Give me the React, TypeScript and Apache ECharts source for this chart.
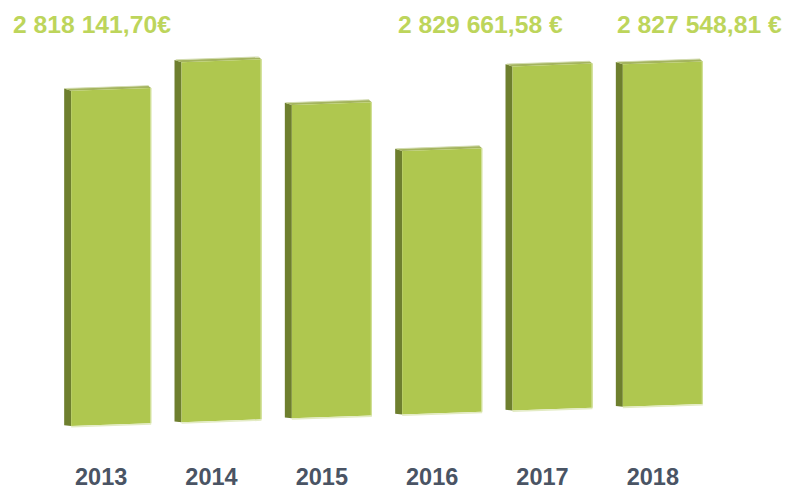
import React, { useEffect, useRef } from "react";
import * as echarts from "echarts";

const categories = ["2013", "2014", "2015", "2016", "2017", "2018"];
const values = [2818141.7, 2850000, 2790000, 2726000, 2829661.58, 2827548.81];
const valueLabels = ["2 818 141,70€", "", "", "", "2 829 661,58 €", "2 827 548,81 €"];
const labelLefts = [13, 0, 0, 0, 398, 617];

const Y_MIN = 2388000;
const Y_MAX = 2909000;
const SHEAR = 0.035;

export default function App() {
  const ref = useRef<HTMLDivElement>(null);
  useEffect(() => {
    if (!ref.current) return;
    const chart = echarts.init(ref.current, undefined, { renderer: "svg" });
    const data = values.map((v, i) => [i, v]);
    const graphics: any[] = [];
    valueLabels.forEach((t, i) => {
      if (!t) return;
      graphics.push({
        type: "text",
        left: labelLefts[i],
        top: 12,
        style: {
          text: t,
          fill: "#bdd55b",
          font: "bold 24.7px 'Liberation Sans', Arial, sans-serif",
        },
      });
    });
    chart.setOption({
      animation: false,
      grid: { left: 52, width: 662, top: 20, bottom: 62, containLabel: false },
      xAxis: {
        type: "category",
        data: categories,
        axisLine: { show: false },
        axisTick: { show: false },
        axisLabel: {
          margin: 39,
          fontSize: 23.5,
          fontWeight: "bold",
          fontFamily: "'Liberation Sans', Arial, sans-serif",
          color: "#4a5464",
          padding: [0, 12, 0, 0],
        },
      },
      yAxis: { type: "value", min: Y_MIN, max: Y_MAX, show: false, splitLine: { show: false } },
      graphic: graphics,
      series: [
        {
          type: "custom",
          data,
          renderItem: (params: any, api: any) => {
            const i = api.value(0);
            const v = api.value(1);
            const top = api.coord([i, v]);
            const base = api.coord([i, Y_MIN]);
            const band = api.size([1, 0])[0];
            const w = band * 0.725;
            const cx = top[0] + 4;
            const fl = cx - w / 2;
            const fr = cx + w / 2;
            const yt = top[1];
            const yb = base[1];
            const x0 = params.coordSys.x + 20;
            const sh = (x: number, y: number) => [x, y - SHEAR * (x - x0)];
            return {
              type: "group",
              children: [
                {
                  type: "polygon",
                  shape: { points: [sh(fl - 7, yt - 2.5), sh(fl, yt), sh(fl, yb), sh(fl - 7, yb - 1)] },
                  style: { fill: "#6e7f2e" },
                },
                {
                  type: "polygon",
                  shape: { points: [sh(fl - 7, yt - 2.5), sh(fr - 3, yt - 2.5), sh(fr, yt), sh(fl, yt)] },
                  style: { fill: "#a4b45e" },
                },
                {
                  type: "polygon",
                  shape: { points: [sh(fl - 6, yt - 3), sh(fr - 3, yt - 3), sh(fr - 2, yt - 2), sh(fl - 5, yt - 2)] },
                  style: { fill: "#d3dcb0" },
                },
                {
                  type: "polygon",
                  shape: { points: [sh(fl, yt), sh(fr, yt), sh(fr, yb), sh(fl, yb)] },
                  style: { fill: "#afc74f" },
                },
                {
                  type: "line",
                  shape: { x1: fr - 0.5, y1: sh(fr, yt)[1], x2: fr - 0.5, y2: sh(fr, yb)[1] },
                  style: { stroke: "#d2e09a", lineWidth: 1.2 },
                },
                {
                  type: "polygon",
                  shape: { points: [sh(fl, yb), sh(fr, yb), sh(fr, yb + 1.5), sh(fl, yb + 1.5)] },
                  style: { fill: "#e3ebc4" },
                },
              ],
            };
          },
        },
      ],
    });
    return () => chart.dispose();
  }, []);
  return (
    <div
      ref={ref}
      style={{ position: "fixed", left: 0, top: 0, width: 785, height: 489, background: "#fff" }}
    />
  );
}
